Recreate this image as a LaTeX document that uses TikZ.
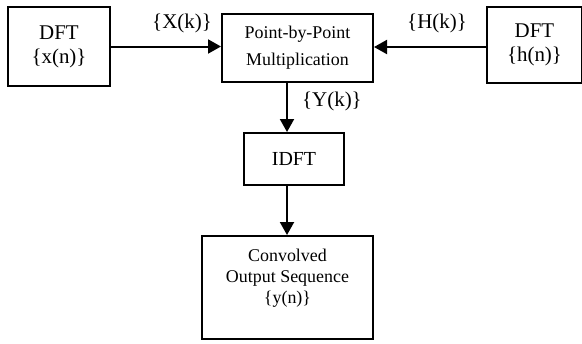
\documentclass[tikz,border=0pt]{standalone}
\usepackage{fontspec}
\setmainfont{Liberation Serif}
\usetikzlibrary{arrows.meta}

\tikzset{
  block/.style={draw,line width=2bp,align=center,inner sep=0pt},
  flow/.style={line width=2bp,-{Triangle[length=13bp,width=14bp]}},
  tag/.style={inner sep=1pt},
  small/.style={font=\fontsize{18}{21}\selectfont}
}

\begin{document}
\begin{tikzpicture}[x=1bp,y=-1bp,font=\fontsize{21}{24}\selectfont]
\useasboundingbox (0,0) rectangle (582,343);
\node[block,minimum width=102bp,minimum height=79bp] (dftx) at (59,46.5) {DFT\\\{x(n)\}};
\node[block,small,minimum width=151bp,minimum height=68bp] (mult) at (297.5,48) {Point-by-Point\\[6pt]Multiplication};
\node[block,minimum width=95bp,minimum height=76bp] (dfth) at (534.5,45) {DFT\\\{h(n)\}};
\node[block,font=\fontsize{20}{24}\selectfont,minimum width=100bp,minimum height=52bp] (idft) at (294,159) {IDFT};
\node[block,small,minimum width=171bp,minimum height=103bp] (outseq) at (287.5,287.5) {Convolved\\Output Sequence\\\{y(n)\}\\[2pt]};
\coordinate (spine) at (287,0);
\draw[flow] (dftx.east) -- (dftx.east -| mult.west);
\draw[flow] (dfth.west |- 0,47) -- (mult.east |- 0,47);
\draw[flow] (mult.south -| spine) -- (idft.north -| spine);
\draw[flow] (idft.south -| spine) -- (outseq.north -| spine);
\node[tag] (xk) at (182,23) {\{X(k)\}};
\node[tag] (hk) at (437,23) {\{H(k)\}};
\node[tag,anchor=west] (yk) at (301,101) {\{Y(k)\}};
\end{tikzpicture}
\end{document}
